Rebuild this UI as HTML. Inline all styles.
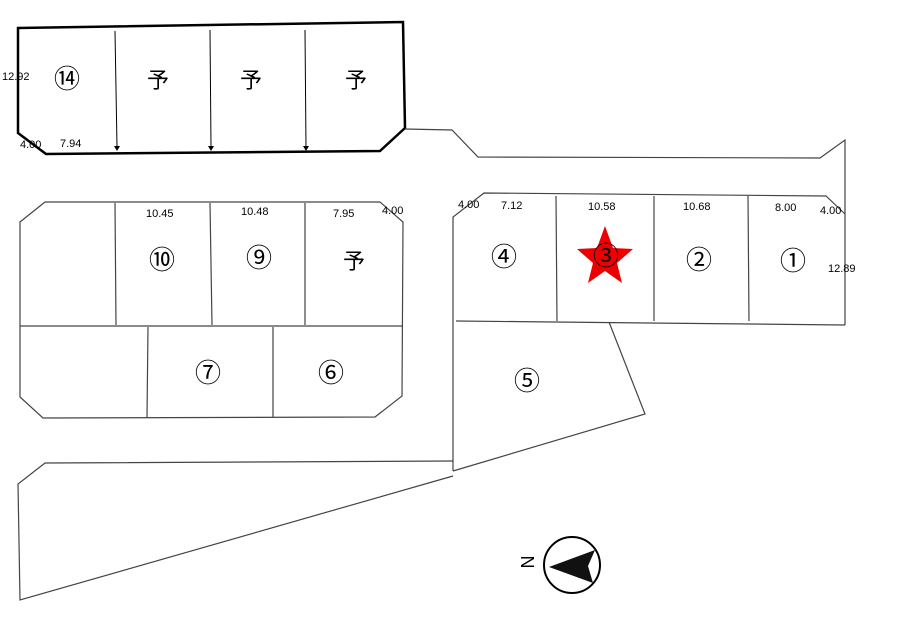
<!DOCTYPE html>
<html><head><style>body{margin:0;background:#fff}svg{display:block}text{font-family:"Liberation Sans","Noto Sans CJK JP",sans-serif}</style></head><body>
<svg width="904" height="625" viewBox="0 0 904 625">
<g fill="none" stroke="#000">
<polygon points="18,28 403,22 405,128 380,151 46,154 18,133" stroke-width="2.5"/>
<g stroke-width="1"><line x1="115" y1="31" x2="117" y2="147"/><line x1="210" y1="30" x2="211" y2="147"/><line x1="305" y1="30" x2="306" y2="147"/></g>
<g fill="#000" stroke="none"><polygon points="114,146 120,146 117,151"/><polygon points="208,146 214,146 211,151"/><polygon points="303,146 309,146 306,151"/></g>
<g stroke="#444" stroke-width="1.2">
<polyline points="405,129 452,130 478,157 820,158 845,140 845,325"/>
<polyline points="453,471 453,217 484,193 826,196 845,214"/>
<line x1="456" y1="321" x2="845" y2="325"/>
<line x1="556" y1="196" x2="557" y2="321"/><line x1="654" y1="196" x2="654" y2="321"/><line x1="748" y1="196" x2="749" y2="321"/>
<polyline points="609,322 645,414 453,471"/>
<polyline points="453,461 45,463 18,484 20,600 453,476"/>
<polygon points="20,222 45,202 380,202 403,222 402,396 375,417 43,418 20,397"/>
<line x1="20" y1="326" x2="402" y2="326"/>
<line x1="115" y1="203" x2="116" y2="325"/><line x1="210" y1="203" x2="212" y2="325"/><line x1="305" y1="203" x2="305" y2="325"/>
<line x1="148" y1="327" x2="147" y2="418"/><line x1="273" y1="327" x2="273" y2="417"/>
</g>
<circle cx="572" cy="565" r="28" stroke-width="2"/>
</g>
<polygon points="549,567 595,550 588,566 593,583" fill="#111"/>
<polygon points="605,226 613,248 633,249 617,263 622,283 605,271 588,283 593,263 577,249 597,248" fill="#e00"/>
<g font-size="11" fill="#000">
<text x="2" y="80">12.92</text><text x="20" y="148">4.00</text><text x="60" y="147">7.94</text>
<text x="146" y="217">10.45</text><text x="241" y="215">10.48</text><text x="333" y="217">7.95</text><text x="382" y="214">4.00</text>
<text x="458" y="208">4.00</text><text x="501" y="209">7.12</text><text x="588" y="210">10.58</text><text x="683" y="210">10.68</text><text x="775" y="211">8.00</text><text x="820" y="214">4.00</text><text x="828" y="272">12.89</text>
</g>
<g font-size="26" fill="#000" text-anchor="middle">
<text x="67" y="88">⑭</text><text x="158" y="88" font-size="22">予</text><text x="251" y="88" font-size="22">予</text><text x="356" y="88" font-size="22">予</text>
<text x="162" y="269">⑩</text><text x="259" y="267">⑨</text><text x="354" y="269" font-size="22">予</text>
<text x="208" y="382">⑦</text><text x="331" y="382">⑥</text>
<text x="504" y="266">④</text><text x="606" y="265">③</text><text x="699" y="269">②</text><text x="793" y="270">①</text>
<text x="527" y="390">⑤</text>
<text x="528" y="568" font-size="18" transform="rotate(-90 528 562)">N</text>
</g>
</svg>
</body></html>
